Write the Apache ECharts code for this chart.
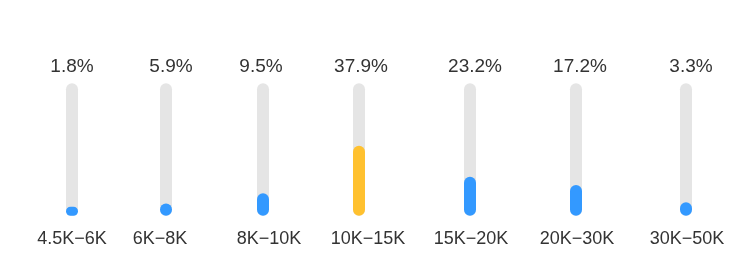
<!DOCTYPE html>
<html>
<head>
<meta charset="utf-8">
<script src="https://cdn.jsdelivr.net/npm/echarts@6/dist/echarts.min.js"></script>
<style>html,body{margin:0;padding:0;background:#fff}#c{width:753px;height:273px}</style>
</head>
<body>
<div id="c"></div>
<script>
// Data
var categories = ['4.5K\u22126K', '6K\u22128K', '8K\u221210K', '10K\u221215K', '15K\u221220K', '20K\u221230K', '30K\u221250K'];
var percentLabels = [1.8, 5.9, 9.5, 37.9, 23.2, 17.2, 3.3];
var barValues = [6.8, 9.3, 16.9, 52.9, 29.5, 23.2, 10.1]; // filled share of each track
var trackValues = [100, 100, 100, 100, 100, 100, 100];
var highlightIndex = 3;

// Layout (bar centre positions and small label shifts seen in the picture)
var centers = [72, 166, 263, 359, 470, 576, 686];
var pctShift = [0, 5, -2, 2, 5, 4, 5];
var catShift = [0, -6, 6, 9, 1, 1, 1];
var BW = 12, TOP = 83.3, H = 132.4;
var FONT = 'Liberation Sans, Arial, Helvetica, sans-serif';

var grids = [], xAxes = [], yAxes = [], series = [];
categories.forEach(function (cat, i) {
  grids.push({ left: centers[i] - BW / 2, width: BW, top: TOP, height: H, containLabel: false });
  var s = catShift[i];
  xAxes.push({
    type: 'category', gridIndex: i, data: [cat],
    axisLine: { show: false }, axisTick: { show: false }, splitLine: { show: false },
    axisLabel: { show: true, margin: 14, fontSize: 18, color: '#333', fontFamily: FONT, interval: 0,
      padding: [0, s < 0 ? -2 * s : 0, 0, s > 0 ? 2 * s : 0] }
  });
  yAxes.push({ type: 'value', gridIndex: i, min: 0, max: 100, show: false });
  series.push({
    type: 'bar', xAxisIndex: i, yAxisIndex: i, data: [trackValues[i]], barWidth: BW,
    itemStyle: { color: '#e5e5e5', borderRadius: 6 },
    label: { show: true, position: 'top', distance: 7, offset: [pctShift[i], 0], formatter: percentLabels[i] + '%', fontSize: 19, color: '#333', fontFamily: FONT },
    silent: true, animation: false, z: 1
  });
  series.push({
    type: 'bar', xAxisIndex: i, yAxisIndex: i, data: [barValues[i]], barWidth: BW, barGap: '-100%',
    itemStyle: { color: i === highlightIndex ? '#ffc12f' : '#3399ff', borderRadius: 6 },
    silent: true, animation: false, z: 2
  });
});

var chart = echarts.init(document.getElementById('c'), null, { renderer: 'canvas' });
chart.setOption({
  backgroundColor: '#fff',
  animation: false,
  grid: grids, xAxis: xAxes, yAxis: yAxes, series: series
});
</script>
</body>
</html>
